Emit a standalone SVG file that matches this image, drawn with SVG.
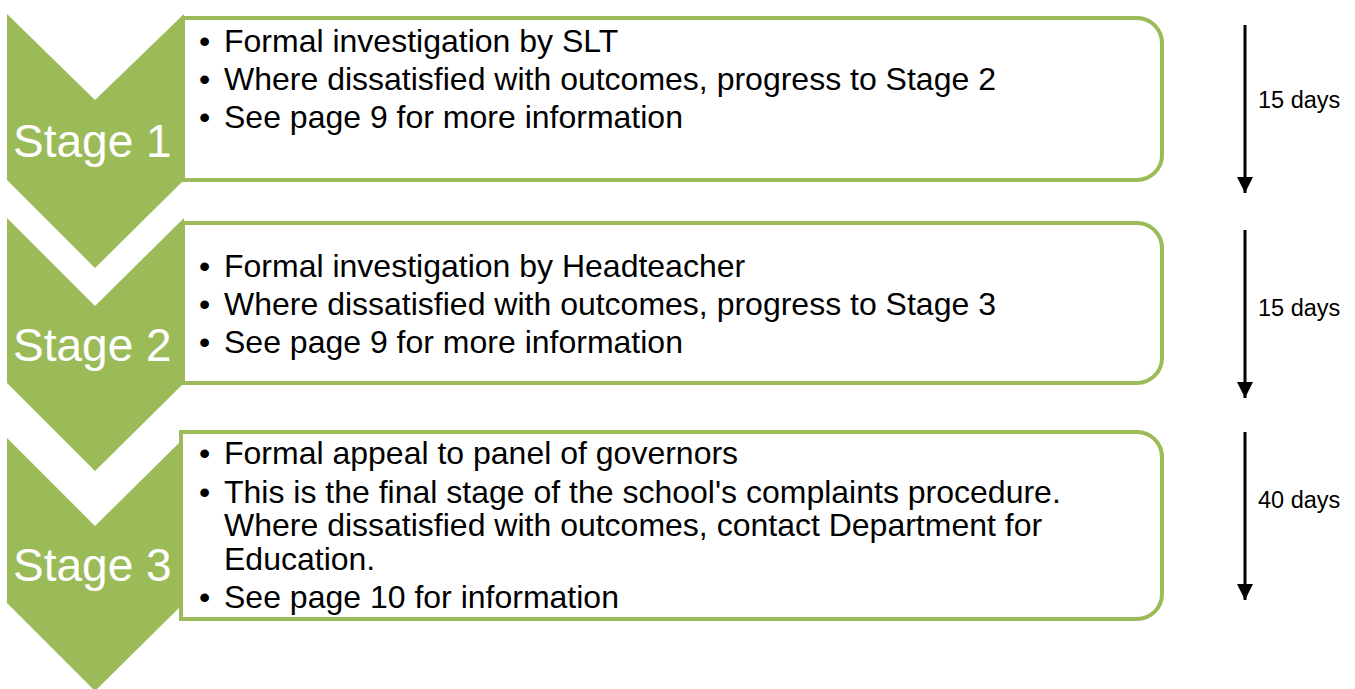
<svg xmlns="http://www.w3.org/2000/svg" width="1355" height="689" viewBox="0 0 1355 689">
<defs>
<style>
.chev{fill:#9BBB59}
.box{fill:#FFFFFF;stroke:#9BBB59;stroke-width:4}
.stage{font-family:"Liberation Sans",Arial,sans-serif;font-size:46px;fill:#FFFFFF}
.txt{font-family:"Liberation Sans",Arial,sans-serif;font-size:32px;fill:#000000}
.days{font-family:"Liberation Sans",Arial,sans-serif;font-size:23.5px;fill:#000000}
.arr{stroke:#000000;stroke-width:3;fill:none}
</style>
<marker id="ah" markerUnits="userSpaceOnUse" markerWidth="16" markerHeight="17" refX="16" refY="8" orient="auto" viewBox="0 0 16 16">
<path d="M0,0 L16,8 L0,16 Z" fill="#000000"/>
</marker>
</defs>
<rect width="1355" height="689" fill="#FFFFFF"/>
<g id="stage1">
<path class="box" d="M183,18 H1137 A25,25 0 0 1 1162,43 V155 A25,25 0 0 1 1137,180 H183 Z"/>
<path class="chev" d="M7,14 L95,100 L184,14 V180 L95,268 L7,180 Z"/>
<text class="stage" x="13" y="157">Stage 1</text>
<text class="txt" x="199" y="52">•</text><text class="txt" x="224" y="52">Formal investigation by SLT</text>
<text class="txt" x="199" y="90">•</text><text class="txt" x="224" y="90">Where dissatisfied with outcomes, progress to Stage 2</text>
<text class="txt" x="199" y="128">•</text><text class="txt" x="224" y="128">See page 9 for more information</text>
</g>
<g id="stage2">
<path class="box" d="M183,223 H1137 A25,25 0 0 1 1162,248 V358 A25,25 0 0 1 1137,383 H183 Z"/>
<path class="chev" d="M7,218 L95,306 L184,218 V383 L95,471 L7,383 Z"/>
<text class="stage" x="13" y="361">Stage 2</text>
<text class="txt" x="199" y="277">•</text><text class="txt" x="224" y="277">Formal investigation by Headteacher</text>
<text class="txt" x="199" y="315">•</text><text class="txt" x="224" y="315">Where dissatisfied with outcomes, progress to Stage 3</text>
<text class="txt" x="199" y="353">•</text><text class="txt" x="224" y="353">See page 9 for more information</text>
</g>
<g id="stage3">
<path class="chev" d="M7,438 L95,526 L184,438 V603 L95,691 L7,603 Z"/>
<path class="box" d="M181,432 H1137 A25,25 0 0 1 1162,457 V594 A25,25 0 0 1 1137,619 H181 Z"/>
<text class="stage" x="13" y="581">Stage 3</text>
<text class="txt" x="199" y="464">•</text><text class="txt" x="224" y="464">Formal appeal to panel of governors</text>
<text class="txt" x="199" y="503">•</text><text class="txt" x="224" y="503">This is the final stage of the school's complaints procedure.</text>
<text class="txt" x="224" y="536">Where dissatisfied with outcomes, contact Department for</text>
<text class="txt" x="224" y="570">Education.</text>
<text class="txt" x="199" y="608">•</text><text class="txt" x="224" y="608">See page 10 for information</text>
</g>
<g id="connectors">
<line class="arr" x1="1245" y1="25" x2="1245" y2="193" marker-end="url(#ah)"/>
<line class="arr" x1="1245" y1="230" x2="1245" y2="398" marker-end="url(#ah)"/>
<line class="arr" x1="1245" y1="432" x2="1245" y2="600" marker-end="url(#ah)"/>
</g>
<g id="labels">
<text class="days" x="1258" y="108">15 days</text>
<text class="days" x="1258" y="316">15 days</text>
<text class="days" x="1258" y="508">40 days</text>
</g>
</svg>
